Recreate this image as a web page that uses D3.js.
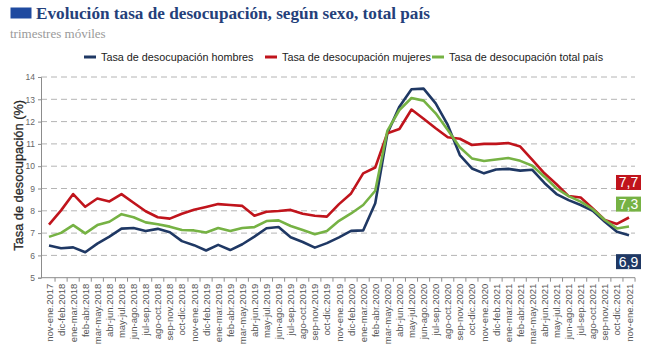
<!DOCTYPE html>
<html lang="es">
<head>
<meta charset="UTF-8">
<title>Evolución tasa de desocupación</title>
<script src="https://cdn.jsdelivr.net/npm/d3@7/dist/d3.min.js"></script>
<style>
  body { margin: 0; background: #fff; }
  svg { display: block; }
</style>
</head>
<body>
<script>

let w = 650, h = 352;

// trimestres móviles
let periods = [
    "nov-ene.2017", "dic-feb.2018", "ene-mar.2018", "feb-abr.2018", "mar-may.2018", "abr-jun.2018",
    "may-jul.2018", "jun-ago.2018", "jul-sep.2018", "ago-oct.2018", "sep-nov.2018", "oct-dic.2018",
    "nov-ene.2018", "dic-feb.2019", "ene-mar.2019", "feb-abr.2019", "mar-may.2019", "abr-jun.2019",
    "may-jul.2019", "jun-ago.2019", "jul-sep.2019", "ago-oct.2019", "sep-nov.2019", "oct-dic.2019",
    "nov-ene.2019", "dic-feb.2020", "ene-mar.2020", "feb-abr.2020", "mar-may.2020", "abr-jun.2020",
    "may-jul.2020", "jun-ago.2020", "jul-sep.2020", "ago-oct.2020", "sep-nov.2020", "oct-dic.2020",
    "nov-ene.2020", "dic-feb.2021", "ene-mar.2021", "feb-abr.2021", "mar-may.2021", "abr-jun.2021",
    "may-jul.2021", "jun-ago.2021", "jul-sep.2021", "ago-oct.2021", "sep-nov.2021", "oct-dic.2021",
    "nov-ene.2021"
];

let hombres = [
    6.44, 6.32, 6.36, 6.14, 6.53, 6.84, 7.20, 7.23, 7.09, 7.19, 7.04, 6.64,
    6.46, 6.22, 6.47, 6.24, 6.50, 6.84, 7.22, 7.27, 6.81, 6.60, 6.35, 6.55,
    6.81, 7.10, 7.12, 8.34, 11.47, 12.67, 13.45, 13.48, 12.82, 11.85, 10.50, 9.90,
    9.68, 9.85, 9.88, 9.80, 9.84, 9.25, 8.75, 8.48, 8.26, 8.00, 7.51, 7.06,
    6.90
];

let mujeres = [
    7.38, 8.02, 8.75, 8.18, 8.55, 8.42, 8.75, 8.36, 7.98, 7.71, 7.65, 7.87,
    8.05, 8.17, 8.30, 8.26, 8.22, 7.78, 7.96, 7.99, 8.04, 7.87, 7.78, 7.74,
    8.30, 8.78, 9.68, 9.94, 11.48, 11.67, 12.54, 12.13, 11.70, 11.30, 11.23, 10.95,
    11.00, 11.00, 11.04, 10.88, 10.28, 9.68, 9.19, 8.66, 8.60, 8.11, 7.59, 7.41,
    7.70
];

let total = [
    6.83, 7.01, 7.36, 6.99, 7.36, 7.51, 7.85, 7.71, 7.48, 7.40, 7.29, 7.14,
    7.12, 7.03, 7.23, 7.09, 7.23, 7.27, 7.54, 7.57, 7.32, 7.14, 6.95, 7.09,
    7.55, 7.88, 8.26, 8.90, 11.58, 12.52, 13.06, 12.94, 12.37, 11.62, 10.85, 10.35,
    10.23, 10.30, 10.37, 10.24, 10.02, 9.53, 9.00, 8.66, 8.41, 8.07, 7.59, 7.21,
    7.30
];

let yTicks = [5, 6, 7, 8, 9, 10, 11, 12, 13, 14];

let series = [
    { name: "Tasa de desocupación hombres", values: hombres, color: "#1f3864" },
    { name: "Tasa de desocupación mujeres", values: mujeres, color: "#c0141c" },
    { name: "Tasa de desocupación total país", values: total, color: "#76b244" }
];

// last value labels: vertical position of each box (value units on the y scale)
let endLabelY = [5.72, 9.27, 8.3];

let plot = { left: 41, right: 635, top: 77, bottom: 277.7 };

let xScale = d3.scalePoint()
    .domain(periods)
    .range([49, 629]);

let yScale = d3.scaleLinear()
    .domain([5, 14])
    .range([plot.bottom, plot.top]);

let svg = d3.select("body")
    .append("svg")
    .attr("width", w)
    .attr("height", h);

// title
svg.append("rect")
    .attr("x", 10.5).attr("y", 7.5)
    .attr("width", 21).attr("height", 11)
    .attr("fill", "#1f4aa0");

svg.append("text")
    .attr("x", 36).attr("y", 19)
    .attr("font-family", "Liberation Serif, serif")
    .attr("font-weight", "bold")
    .attr("font-size", 17.2)
    .attr("fill", "#24407a")
    .text("Evolución tasa de desocupación, según sexo, total país");

svg.append("text")
    .attr("x", 10).attr("y", 38)
    .attr("font-family", "Liberation Serif, serif")
    .attr("font-size", 13)
    .attr("fill", "#9a9a9a")
    .text("trimestres móviles");

// legend
let legendX = [84, 265, 432];
let legend = svg.selectAll(".legend")
    .data(series)
    .enter()
    .append("g")
    .attr("transform", function(d, i) { return "translate(" + legendX[i] + ",57)"; });

legend.append("line")
    .attr("x1", 0).attr("x2", 12)
    .attr("y1", 0).attr("y2", 0)
    .attr("stroke", function(d) { return d.color; })
    .attr("stroke-width", 3);

legend.append("text")
    .attr("x", 17).attr("y", 4)
    .attr("font-family", "Liberation Sans, Arial, sans-serif")
    .attr("font-size", 10.8)
    .attr("fill", "#222")
    .text(function(d) { return d.name; });

// grid
svg.append("g")
    .selectAll("line")
    .data(yTicks.slice(1))
    .enter()
    .append("line")
    .attr("x1", plot.left).attr("x2", plot.right)
    .attr("y1", function(d) { return yScale(d); })
    .attr("y2", function(d) { return yScale(d); })
    .attr("stroke", "#b4b4b4")
    .attr("stroke-width", 1)
    .attr("stroke-dasharray", "6,4");

// y axis
let yAxis = d3.axisLeft(yScale)
    .tickValues(yTicks)
    .tickSize(3)
    .tickPadding(3)
    .tickFormat(d3.format("d"));

let gy = svg.append("g")
    .attr("transform", "translate(" + plot.left + ",0)")
    .call(yAxis);
gy.select(".domain").attr("stroke", "#8c8c8c");
gy.selectAll(".tick line").attr("stroke", "#8c8c8c");
gy.selectAll(".tick text")
    .attr("font-family", "Liberation Sans, Arial, sans-serif")
    .attr("font-size", 8.5)
    .attr("fill", "#666");

svg.append("text")
    .attr("transform", "translate(23," + ((plot.top + plot.bottom) / 2 - 2) + ") rotate(-90)")
    .attr("text-anchor", "middle")
    .attr("font-family", "Liberation Sans, Arial, sans-serif")
    .attr("font-size", 12.8)
    .attr("fill", "#2a2a2a")
    .attr("stroke", "#2a2a2a")
    .attr("stroke-width", 0.3)
    .text("Tasa de desocupación (%)");

// x axis
let step = xScale.step();
svg.append("line")
    .attr("x1", plot.left).attr("x2", plot.right)
    .attr("y1", plot.bottom).attr("y2", plot.bottom)
    .attr("stroke", "#8c8c8c");

svg.append("g")
    .selectAll("line")
    .data(periods)
    .enter()
    .append("line")
    .attr("x1", function(d) { return xScale(d) + step / 2; })
    .attr("x2", function(d) { return xScale(d) + step / 2; })
    .attr("y1", plot.bottom)
    .attr("y2", plot.bottom + 4)
    .attr("stroke", "#8c8c8c");

svg.append("g")
    .selectAll("text")
    .data(periods)
    .enter()
    .append("text")
    .attr("transform", function(d) {
        return "translate(" + (xScale(d) + 3.5) + "," + (plot.bottom + 6) + ") rotate(-90)";
    })
    .attr("text-anchor", "end")
    .attr("font-family", "Liberation Sans, Arial, sans-serif")
    .attr("font-size", 9.5)
    .attr("fill", "#555")
    .text(function(d) { return d; });

// lines
let line = d3.line()
    .x(function(d, i) { return xScale(periods[i]); })
    .y(function(d) { return yScale(d); });

svg.append("g")
    .selectAll("path")
    .data(series)
    .enter()
    .append("path")
    .attr("d", function(d) { return line(d.values); })
    .attr("fill", "none")
    .attr("stroke", function(d) { return d.color; })
    .attr("stroke-width", 2.6)
    .attr("stroke-linejoin", "round");

// end value boxes
let lastX = xScale(periods[periods.length - 1]);
let boxes = svg.append("g")
    .selectAll("g")
    .data(series)
    .enter()
    .append("g")
    .attr("transform", function(d, i) {
        return "translate(" + (lastX - 13) + "," + (yScale(endLabelY[i]) - 7.5) + ")";
    });

boxes.append("rect")
    .attr("width", 25).attr("height", 15)
    .attr("fill", function(d) { return d.color; });

boxes.append("text")
    .attr("x", 12.5).attr("y", 12.5)
    .attr("text-anchor", "middle")
    .attr("font-family", "Liberation Sans, Arial, sans-serif")
    .attr("font-size", 14)
    .attr("fill", "#fff")
    .text(function(d) { return d3.format(".1f")(d.values[d.values.length - 1]).replace(".", ","); });

</script>
</body>
</html>
